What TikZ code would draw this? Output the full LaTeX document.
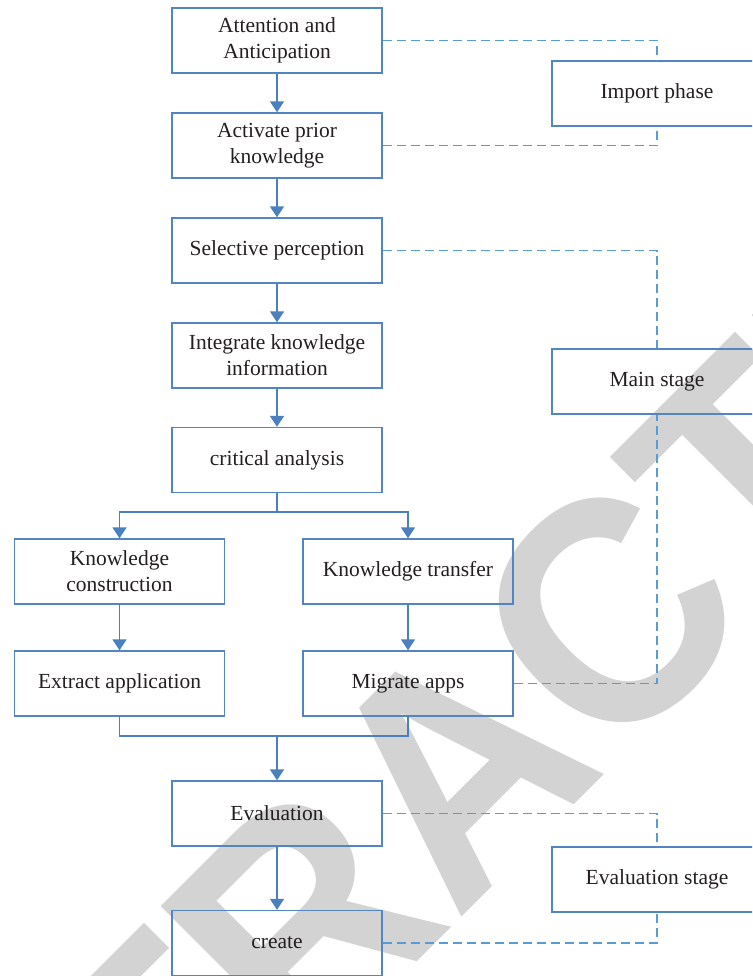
\documentclass[tikz,border=0pt]{standalone}
\usepackage{fontspec}
\setmainfont{Liberation Serif}
\newfontfamily\wmfont{Liberation Sans}
\usetikzlibrary{arrows.meta}

\definecolor{boxblue}{HTML}{5286C2}
\definecolor{arrowblue}{HTML}{4A80BE}
\definecolor{dashblue}{HTML}{5B9BD5}
\definecolor{inkdark}{HTML}{231F20}
\definecolor{wmgrey}{HTML}{D3D3D3}

\tikzset{
  stagebox/.style={draw=boxblue, line width=1.4pt, minimum width=210pt,
    minimum height=65pt, inner sep=2pt, align=center, text=inkdark,
    font=\fontsize{21.5}{26}\selectfont},
  flowline/.style={draw=arrowblue, line width=1.6pt},
  flowarrow/.style={flowline, -{Triangle[width=14pt,length=11pt]}},
  phaselink/.style={draw=dashblue, line width=1.4pt, dash pattern=on 9pt off 5pt}
}

\begin{document}
\begin{tikzpicture}[x=1pt, y=-1pt]
\useasboundingbox (0,0) rectangle (752,976);
\clip (0,0) rectangle (752,976);

% background stamp
\node[anchor=base west, rotate=45, xscale=0.94, inner sep=0pt, text=wmgrey,
  font=\wmfont\bfseries\fontsize{320}{320}\selectfont] (stamp) at (-123,1502) {RETRACTED};

% main sequence
\node[stagebox] (att)  at (277,40.5)  {Attention and\\Anticipation};
\node[stagebox] (act)  at (277,145.5) {Activate prior\\knowledge};
\node[stagebox] (sel)  at (277,250.5) {Selective perception};
\node[stagebox] (int)  at (277,355.5) {Integrate knowledge\\information};
\node[stagebox] (crit) at (277,460)   {critical analysis};
\node[stagebox] (kc)   at (119.5,571.5) {Knowledge\\construction};
\node[stagebox] (kt)   at (408,571.5)   {Knowledge transfer};
\node[stagebox] (ea)   at (119.5,683.5) {Extract application};
\node[stagebox] (ma)   at (408,683.5)   {Migrate apps};
\node[stagebox] (ev)   at (277,813.5) {Evaluation};
\node[stagebox] (cr)   at (277,943)   {create};

% phases
\node[stagebox] (imp)  at (657,93.5)  {Import phase};
\node[stagebox] (main) at (657,381.5) {Main stage};
\node[stagebox] (evs)  at (657,879.5) {Evaluation stage};

% flow
\draw[flowarrow] (att) -- (act);
\draw[flowarrow] (act) -- (sel);
\draw[flowarrow] (sel) -- (int);
\draw[flowarrow] (int) -- (crit);
\coordinate (split) at (277,512);
\draw[flowline] (crit.south) -- (split);
\draw[flowarrow] (split) -| (kc.north);
\draw[flowarrow] (split) -| (kt.north);
\draw[flowarrow] (kc) -- (ea);
\draw[flowarrow] (kt) -- (ma);
\coordinate (merge) at (277,736);
\draw[flowline] (ea.south) |- (merge);
\draw[flowline] (ma.south) |- (merge);
\draw[flowarrow] (merge) -- (ev.north);
\draw[flowarrow] (ev) -- (cr);

% phase brackets
\draw[phaselink] (att.east) -| (imp.north);
\draw[phaselink] (act.east) -| (imp.south);
\draw[phaselink] (sel.east) -| (main.north);
\draw[phaselink] (ma.east) -| (main.south);
\draw[phaselink] (ev.east) -| (evs.north);
\draw[phaselink] (cr.east) -| (evs.south);
\end{tikzpicture}
\end{document}
